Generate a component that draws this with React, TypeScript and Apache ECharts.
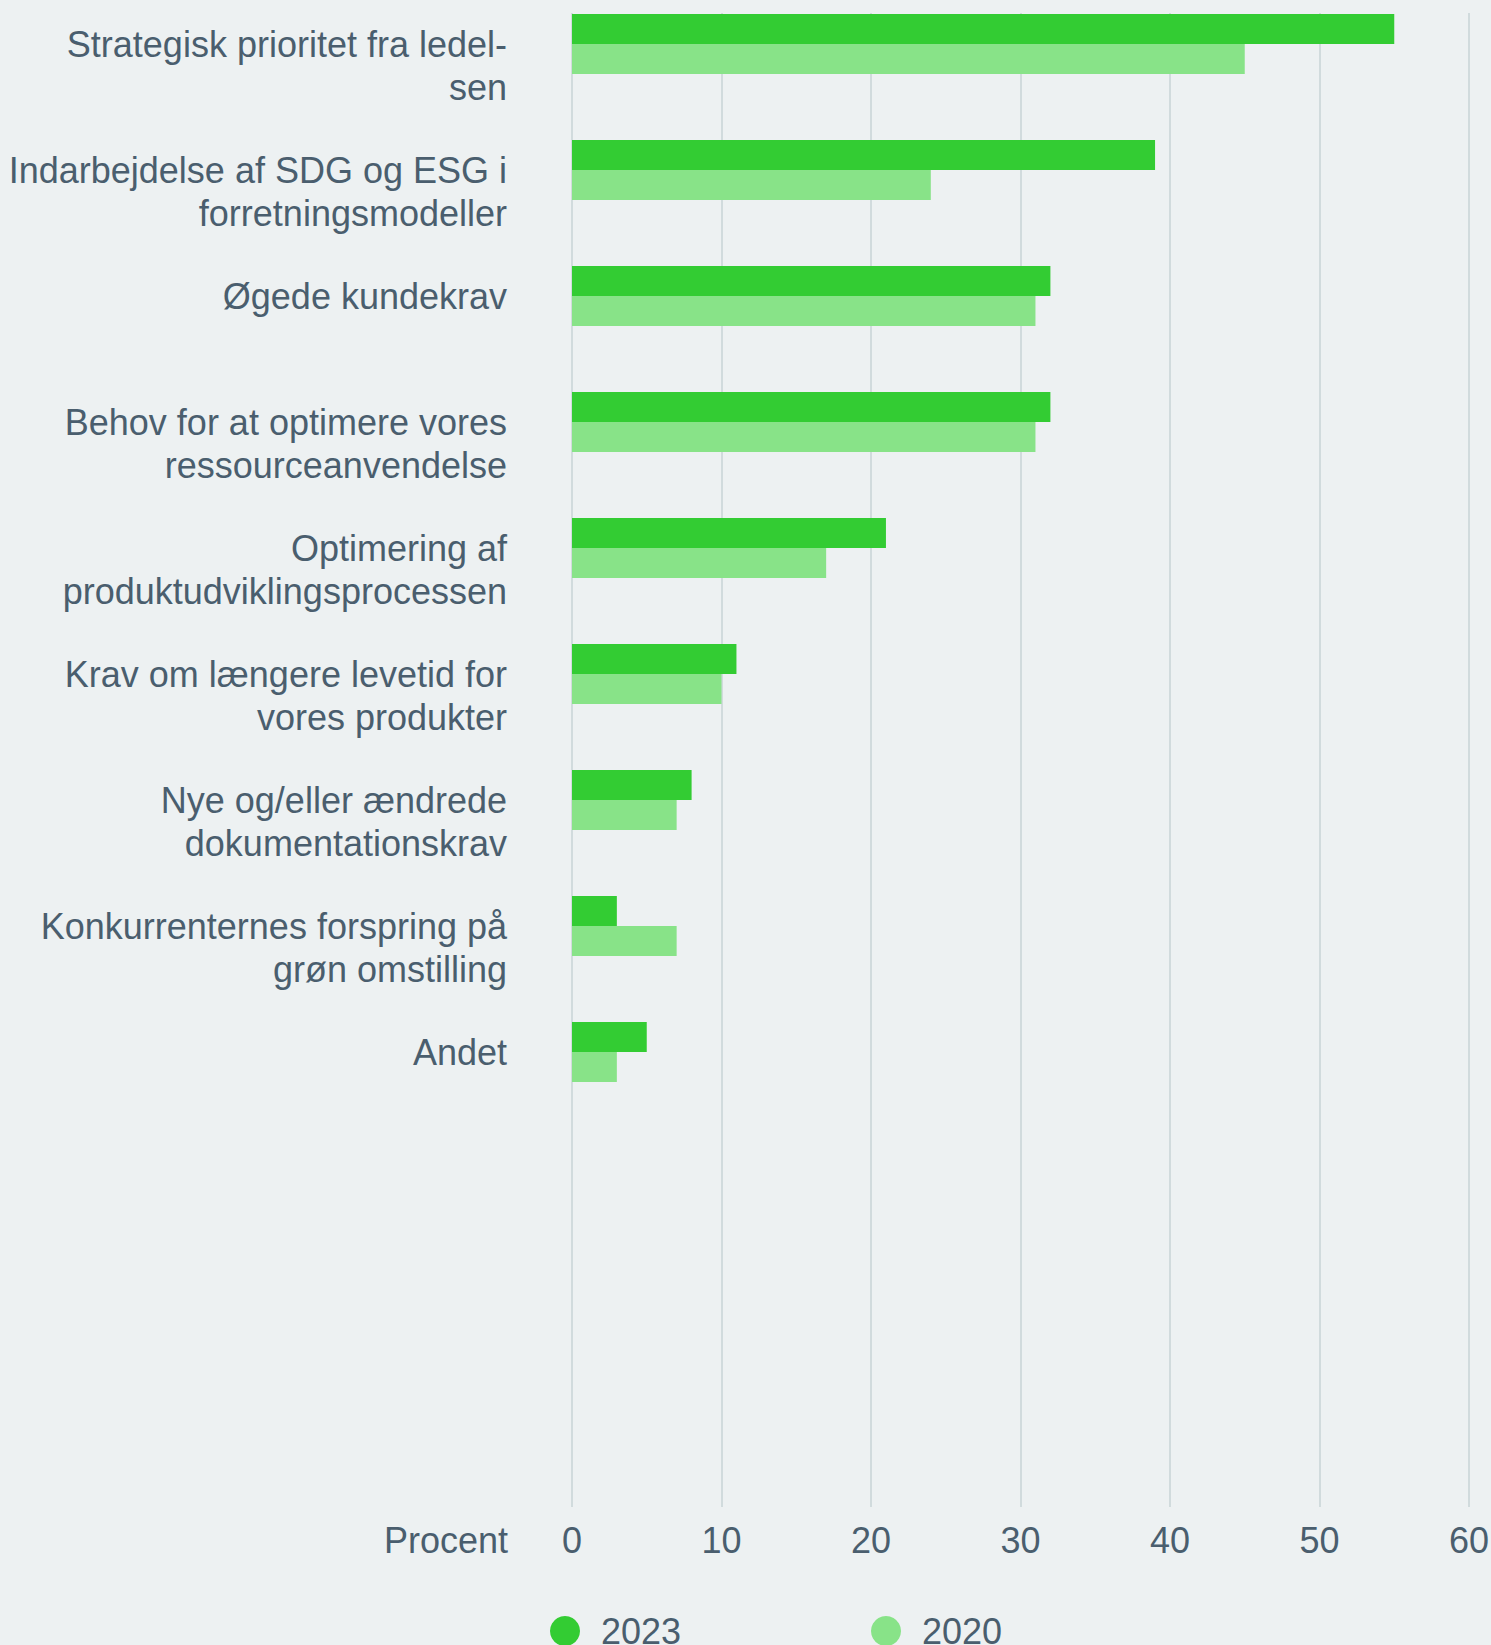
import React, { useEffect, useRef } from 'react';
import * as echarts from 'echarts';

const categories = [
  'Strategisk prioritet fra ledel-\nsen',
  'Indarbejdelse af SDG og ESG i\nforretningsmodeller',
  'Øgede kundekrav',
  'Behov for at optimere vores\nressourceanvendelse',
  'Optimering af\nproduktudviklingsprocessen',
  'Krav om længere levetid for\nvores produkter',
  'Nye og/eller ændrede\ndokumentationskrav',
  'Konkurrenternes forspring på\ngrøn omstilling',
  'Andet',
];
const values2023 = [55, 39, 32, 32, 21, 11, 8, 3, 5];
const values2020 = [45, 24, 31, 31, 17, 10, 7, 7, 3];
const seriesNames = ['2023', '2020'];
const xMin = 0;
const xMax = 60;
const xInterval = 10;
const axisName = 'Procent';

const BG = '#edf1f2';
const TEXT = '#4a5e6e';
const GRID = '#d1dbdd';
const C2023 = '#33cc33';
const C2020 = '#88e388';
const FONT = "'Liberation Sans', Arial, sans-serif";
const FS = 36;

export default function App() {
  const ref = useRef<HTMLDivElement>(null);
  useEffect(() => {
    document.body.style.margin = '0';
    document.body.style.background = BG;
    const chart = echarts.init(ref.current!, null, { renderer: 'svg' });
    const legendBase = {
      icon: 'circle',
      itemWidth: 30,
      itemHeight: 30,
      padding: 0,
      top: 1613,
      selectedMode: false,
      textStyle: { color: TEXT, fontSize: FS, fontFamily: FONT, padding: [0, 0, 0, 16] },
    };
    chart.setOption({
      animation: false,
      backgroundColor: BG,
      textStyle: { fontFamily: FONT },
      grid: { left: 572, right: 22, top: -19, height: 1512, containLabel: false, outerBoundsMode: 'none' },
      xAxis: {
        type: 'value',
        min: xMin,
        max: xMax,
        interval: xInterval,
        position: 'bottom',
        axisLine: { show: false },
        axisTick: { show: true, length: 14, lineStyle: { color: GRID, width: 2 } },
        splitLine: { show: true, lineStyle: { color: GRID, width: 2 } },
        axisLabel: { color: TEXT, fontSize: FS, fontFamily: FONT, margin: 29 },
        name: axisName,
        nameLocation: 'start',
        nameGap: 64,
        nameTextStyle: {
          color: TEXT,
          fontSize: FS,
          fontFamily: FONT,
          align: 'right',
          verticalAlign: 'top',
          padding: [29, 0, 0, 0],
        },
      },
      yAxis: {
        type: 'category',
        inverse: true,
        max: 11,
        data: categories,
        axisLine: { show: false },
        axisTick: { show: false },
        splitLine: { show: false },
        axisLabel: {
          interval: 0,
          color: TEXT,
          fontSize: FS,
          fontFamily: FONT,
          lineHeight: 43,
          margin: 65,
          align: 'right',
          verticalAlign: 'middle',
          // keep the first line of a two-line label level with the bars
          formatter: (v: any) => {
            if (v == null || v === 'undefined') return '';
            const s = String(v);
            return s.includes('\n') ? '\n' + s : s;
          },
        },
      },
      legend: [
        { ...legendBase, data: [seriesNames[0]], left: 550 },
        { ...legendBase, data: [seriesNames[1]], left: 871 },
      ],
      series: [
        {
          name: seriesNames[0],
          type: 'bar',
          data: values2023,
          barWidth: 30,
          barGap: '0%',
          itemStyle: { color: C2023 },
        },
        {
          name: seriesNames[1],
          type: 'bar',
          data: values2020,
          barWidth: 30,
          barGap: '0%',
          itemStyle: { color: C2020 },
        },
      ],
      graphic: [
        {
          type: 'rect',
          left: 0,
          top: 0,
          z: 100,
          shape: { width: 1491, height: 13 },
          style: { fill: BG },
        },
      ],
    });
    return () => chart.dispose();
  }, []);
  return <div ref={ref} style={{ width: 1491, height: 1645 }} />;
}
